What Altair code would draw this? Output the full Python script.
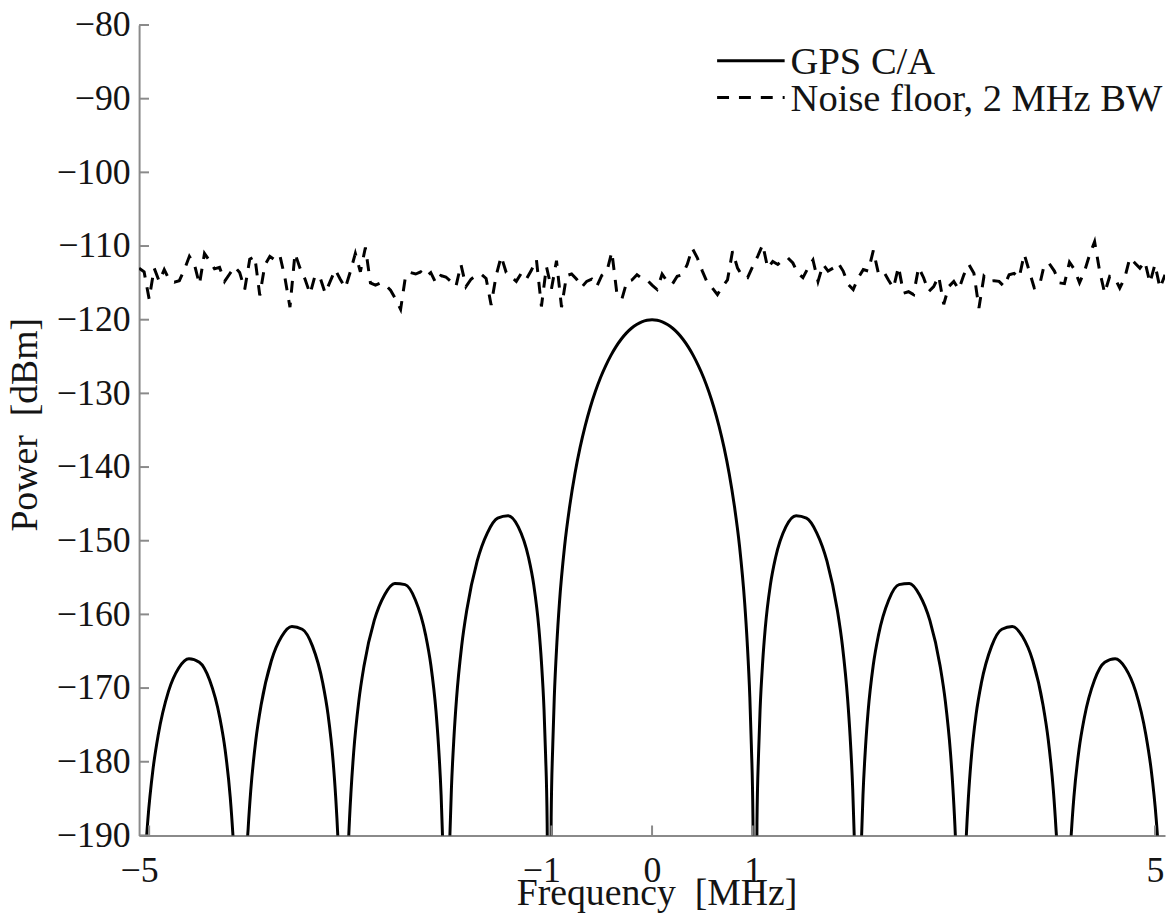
import altair as alt
import pandas as pd

# ---------------- data ----------------
gps_freq_mhz = [
    -5.100, -5.064, -5.038, -5.013, -4.962, -4.910, -4.808, -4.706, -4.604, -4.501,
    -4.399, -4.297, -4.245, -4.194, -4.169, -4.143, -4.092, -4.041, -4.015, -3.990,
    -3.939, -3.887, -3.785, -3.683, -3.581, -3.478, -3.376, -3.274, -3.222, -3.171,
    -3.146, -3.120, -3.105, -3.069, -3.033, -3.018, -2.992, -2.967, -2.916, -2.864,
    -2.762, -2.660, -2.558, -2.455, -2.353, -2.251, -2.199, -2.148, -2.123, -2.097,
    -2.082, -2.066, -2.046, -2.026, -2.010, -1.995, -1.969, -1.944, -1.893, -1.841,
    -1.739, -1.637, -1.535, -1.432, -1.330, -1.228, -1.176, -1.125, -1.100, -1.074,
    -1.059, -1.043, -1.023, -1.003, -0.987, -0.972, -0.946, -0.921, -0.870, -0.818,
    -0.767, -0.716, -0.665, -0.614, -0.563, -0.512, -0.460, -0.409, -0.358, -0.307,
    -0.256, -0.205, -0.153, -0.102, -0.051,
    0.000,
    0.051, 0.102, 0.153, 0.205, 0.256, 0.307, 0.358, 0.409, 0.460, 0.512,
    0.563, 0.614, 0.665, 0.716, 0.767, 0.818, 0.870, 0.921, 0.946, 0.972,
    0.987, 1.003, 1.023, 1.043, 1.059, 1.074, 1.100, 1.125, 1.176, 1.228,
    1.330, 1.432, 1.535, 1.637, 1.739, 1.841, 1.893, 1.944, 1.969, 1.995,
    2.010, 2.026, 2.046, 2.066, 2.082, 2.097, 2.123, 2.148, 2.199, 2.251,
    2.353, 2.455, 2.558, 2.660, 2.762, 2.864, 2.916, 2.967, 2.992, 3.018,
    3.033, 3.069, 3.105, 3.120, 3.146, 3.171, 3.222, 3.274, 3.376, 3.478,
    3.581, 3.683, 3.785, 3.887, 3.939, 3.990, 4.015, 4.041, 4.092, 4.143,
    4.169, 4.194, 4.245, 4.297, 4.399, 4.501, 4.604, 4.706, 4.808, 4.910,
    4.962, 5.013, 5.038, 5.064, 5.100,
]
gps_power_dbm = [
    -220.90, -199.89, -192.85, -187.89, -181.04, -176.37, -170.45, -167.27, -166.01, -166.49,
    -168.90, -174.05, -178.33, -184.80, -189.56, -196.40, -250.00, -195.97, -188.91, -183.93,
    -177.02, -172.31, -166.29, -163.01, -161.65, -162.02, -164.31, -169.32, -173.54, -179.94,
    -184.67, -191.48, -197.56, -250.00, -197.16, -190.90, -183.80, -178.78, -171.80, -167.00,
    -160.82, -157.36, -155.80, -155.96, -158.04, -162.81, -166.90, -173.17, -177.84, -184.58,
    -190.62, -200.18, -250.00, -199.83, -190.01, -183.71, -176.53, -171.44, -164.29, -159.33,
    -152.78, -148.92, -146.93, -146.60, -148.12, -152.28, -156.03, -161.94, -166.41, -172.95,
    -178.87, -188.31, -250.00, -187.62, -177.65, -171.22, -163.80, -158.46, -150.78, -145.24,
    -140.91, -137.37, -134.41, -131.88, -129.72, -127.84, -126.23, -124.84, -123.65, -122.65,
    -121.82, -121.16, -120.65, -120.29, -120.07,
    -120.00,
    -120.07, -120.29, -120.65, -121.16, -121.82, -122.65, -123.65, -124.84, -126.23, -127.84,
    -129.72, -131.88, -134.41, -137.37, -140.91, -145.24, -150.78, -158.46, -163.80, -171.22,
    -177.65, -187.62, -250.00, -188.31, -178.87, -172.95, -166.41, -161.94, -156.03, -152.28,
    -148.12, -146.60, -146.93, -148.92, -152.78, -159.33, -164.29, -171.44, -176.53, -183.71,
    -190.01, -199.83, -250.00, -200.18, -190.62, -184.58, -177.84, -173.17, -166.90, -162.81,
    -158.04, -155.96, -155.80, -157.36, -160.82, -167.00, -171.80, -178.78, -183.80, -190.90,
    -197.16, -250.00, -197.56, -191.48, -184.67, -179.94, -173.54, -169.32, -164.31, -162.02,
    -161.65, -163.01, -166.29, -172.31, -177.02, -183.93, -188.91, -195.97, -250.00, -196.40,
    -189.56, -184.80, -178.33, -174.05, -168.90, -166.49, -166.01, -167.27, -170.45, -176.37,
    -181.04, -187.89, -192.85, -199.89, -220.90,
]

noise_start_mhz = -5.1
noise_step_mhz = 0.05
noise_power_dbm = [
    -113.0, -113.5, -117.2, -113.0, -114.8, -113.2, -114.6, -114.9, -114.7, -113.2,
    -111.4, -112.5, -115.2, -111.0, -112.0, -113.1, -112.9, -114.8, -113.8, -112.8,
    -113.6, -115.9, -111.8, -111.4, -116.7, -112.6, -111.4, -111.9, -111.3, -114.3,
    -118.3, -111.0, -113.0, -114.5, -116.5, -114.0, -114.3, -116.4, -114.8, -113.2,
    -114.5, -115.7, -113.5, -111.0, -113.5, -110.2, -115.0, -115.3, -115.0, -115.3,
    -116.0, -117.2, -118.6, -114.0, -113.6, -113.8, -113.5, -114.2, -113.6, -115.0,
    -114.0, -114.2, -114.8, -115.5, -112.5, -115.5, -114.5, -114.0, -113.8, -114.4,
    -118.0, -114.0, -111.4, -113.6, -114.2, -114.8, -113.7, -114.5, -113.3, -111.8,
    -118.2, -112.8, -115.8, -112.0, -118.3, -114.0, -113.8, -114.5, -115.6, -114.8,
    -114.5, -115.5, -114.0, -113.5, -110.8, -116.4, -117.2, -114.8, -114.6, -113.9,
    -114.4, -114.6, -115.3, -115.9, -113.8, -114.8, -115.2, -114.1, -113.9, -112.5,
    -110.3, -111.6, -113.4, -115.0, -115.7, -116.6, -115.5, -114.6, -110.7, -113.0,
    -114.1, -114.3, -112.8, -111.4, -109.8, -113.0, -112.1, -112.5, -111.9, -111.6,
    -112.3, -113.7, -114.3, -113.0, -111.9, -114.8, -112.5, -113.4, -113.0, -112.3,
    -113.4, -115.2, -115.9, -114.3, -113.2, -113.4, -110.6, -113.7, -113.4, -114.6,
    -115.7, -112.8, -116.4, -116.2, -116.6, -112.9, -114.3, -116.2, -115.5, -114.1,
    -117.9, -115.5, -114.8, -115.9, -113.9, -112.5, -113.7, -118.4, -114.1, -114.8,
    -114.7, -114.8, -115.5, -113.9, -113.7, -114.3, -111.1, -113.4, -115.7, -115.5,
    -112.5, -112.4, -113.4, -115.0, -115.1, -112.2, -113.2, -115.0, -113.4, -111.2,
    -109.4, -113.4, -116.4, -114.1, -114.3, -115.7, -114.3, -111.6, -112.3, -113.0,
    -112.1, -115.0, -112.5, -115.7, -113.9,
]

x_tick_values = [-5, -1, 0, 1, 5]
y_tick_values = [-80, -90, -100, -110, -120, -130, -140, -150, -160, -170, -180, -190]
legend_labels = ["GPS C/A", "Noise floor, 2 MHz BW"]

# ---------------- tables ----------------
noise_freq_mhz = [round(noise_start_mhz + noise_step_mhz * i, 3) for i in range(len(noise_power_dbm))]
gps_df = pd.DataFrame({"f": gps_freq_mhz, "p": gps_power_dbm})
noise_df = pd.DataFrame({"f": noise_freq_mhz, "p": noise_power_dbm})
xt_df = pd.DataFrame({"f": x_tick_values})
yt_df = pd.DataFrame({"p": y_tick_values})

FONT = "Liberation Serif"
TXT = "#141414"
AX = "#8a8a8a"
W, H = 1033, 816

xscale = alt.Scale(domain=[-5.1, 5.1], nice=False, zero=False)
yscale = alt.Scale(domain=[-190, -80], nice=False, zero=False)

x_axis = alt.Axis(
    values=x_tick_values, format="d", grid=False, ticks=False, tickSize=0,
    labelFlush=False, labelPadding=18, labelFont=FONT, labelFontSize=36, labelColor=TXT,
    labelAlign={"condition": {"test": "datum.value < 0", "value": "right"}, "value": "center"},
    labelOffset={"condition": {"test": "datum.value < 0", "value": 9}, "value": 0},
    domainColor=AX, domainWidth=2,
    title="Frequency\u00a0 [MHz]", titleFont=FONT, titleFontSize=38, titleFontWeight="normal",
    titleColor=TXT, titleX=521, titleY=70, titleAlign="center", titleBaseline="alphabetic",
)
y_axis = alt.Axis(
    values=y_tick_values, format="d", grid=False, ticks=False, tickSize=0,
    labelPadding=9, labelFont=FONT, labelFontSize=36, labelColor=TXT,
    domainColor=AX, domainWidth=2,
    title="Power\u00a0 [dBm]", titleFont=FONT, titleFontSize=38, titleFontWeight="normal",
    titleColor=TXT, titleAngle=270, titleX=-103, titleY=402, titleAlign="center",
    titleBaseline="alphabetic",
)

X = alt.X("f:Q", scale=xscale, axis=x_axis)
Y = alt.Y("p:Q", scale=yscale, axis=y_axis)

noise = alt.Chart(noise_df).mark_line(
    color="black", strokeWidth=3, strokeDash=[12, 10], clip=True
).encode(x=X, y=Y)

gps = alt.Chart(gps_df).mark_line(
    color="black", strokeWidth=3, clip=True, interpolate="monotone"
).encode(x=X, y=Y)

yticks = alt.Chart(yt_df).mark_rule(color=AX, strokeWidth=2).encode(
    y=Y, x=alt.value(0), x2=alt.value(10),
)
xticks = alt.Chart(xt_df).mark_rule(color=AX, strokeWidth=2).encode(
    x=X, y=alt.value(H), y2=alt.value(H - 10),
)

leg1 = alt.Data(values=[{"label": legend_labels[0]}])
leg2 = alt.Data(values=[{"label": legend_labels[1]}])
leg_line1 = alt.Chart(leg1).mark_rule(color="black", strokeWidth=3).encode(
    x=alt.value(582), x2=alt.value(650), y=alt.value(36))
leg_line2 = alt.Chart(leg2).mark_rule(color="black", strokeWidth=3, strokeDash=[12, 10]).encode(
    x=alt.value(582), x2=alt.value(650), y=alt.value(73))
leg_text1 = alt.Chart(leg1).mark_text(
    align="left", baseline="alphabetic", font=FONT, fontSize=38.8, color=TXT
).encode(x=alt.value(656), y=alt.value(49.7), text="label:N")
leg_text2 = alt.Chart(leg2).mark_text(
    align="left", baseline="alphabetic", font=FONT, fontSize=38.8, color=TXT
).encode(x=alt.value(656), y=alt.value(86.5), text="label:N")

chart = alt.layer(
    noise, gps, yticks, xticks, leg_line1, leg_line2, leg_text1, leg_text2
).properties(
    width=W, height=H,
    autosize=alt.AutoSizeParams(type="none"),
    padding={"left": 132, "top": 14, "right": 3, "bottom": 76},
    background="white",
).configure_view(stroke="transparent")

chart.save("out.html", embed_options={"renderer": "svg", "actions": False})
